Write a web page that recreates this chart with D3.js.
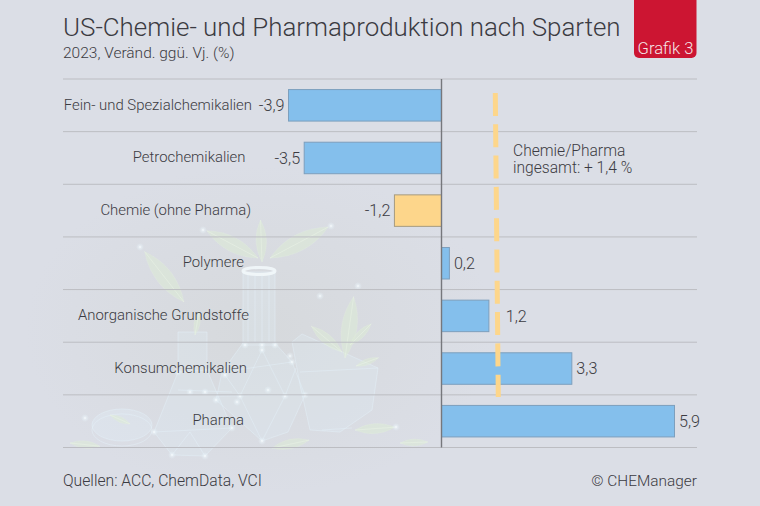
<!DOCTYPE html>
<html lang="de">
<head>
<meta charset="utf-8">
<title>US-Chemie- und Pharmaproduktion nach Sparten</title>
<script src="https://cdn.jsdelivr.net/npm/d3@7"></script>
<style>
  html, body { margin: 0; padding: 0; background: #dbdee6; }
  svg { display: block; }
  text { font-family: Roboto, "Liberation Sans", sans-serif; font-weight: 300; fill: #3b3b42; }
</style>
</head>
<body>
<div id="vis"></div>
<script>
// chart data
const categories = ["Fein- und Spezialchemikalien", "Petrochemikalien", "Chemie (ohne Pharma)", "Polymere", "Anorganische Grundstoffe", "Konsumchemikalien", "Pharma"];
const values = [-3.9, -3.5, -1.2, 0.2, 1.2, 3.3, 5.9];
const highlighted = ["Chemie (ohne Pharma)"];
const totalValue = 1.4;
const titleText = "US-Chemie- und Pharmaproduktion nach Sparten";
const subtitleText = "2023, Veränd. ggü. Vj. (%)";
const totalLabel = ["Chemie/Pharma", "ingesamt: + 1,4 %"];
const sourceText = "Quellen: ACC, ChemData, VCI";
const creditText = "© CHEManager";
const badgeText = "Grafik 3";

const width = 760, height = 506;

const svg = d3.select("#vis").append("svg")
  .attr("width", width)
  .attr("height", height);

const defs = svg.append("defs");
const glow = defs.append("radialGradient").attr("id", "bgGlow");
glow.append("stop").attr("offset", "0%").attr("stop-color", "#d6d9dc");
glow.append("stop").attr("offset", "100%").attr("stop-color", "#dbdee6");
const spark = defs.append("radialGradient").attr("id", "sparkGlow");
spark.append("stop").attr("offset", "0%").attr("stop-color", "#ffffff").attr("stop-opacity", 0.95);
spark.append("stop").attr("offset", "35%").attr("stop-color", "#eef8fd").attr("stop-opacity", 0.5);
spark.append("stop").attr("offset", "100%").attr("stop-color", "#e6f4fb").attr("stop-opacity", 0);

svg.append("rect").attr("width", width).attr("height", height).attr("fill", "#dbdee6");
svg.append("ellipse").attr("cx", 260).attr("cy", 330).attr("rx", 235).attr("ry", 165).attr("fill", "url(#bgGlow)");

// faint lab glassware behind the chart, decoration only
const art = svg.append("g").attr("fill", "none");
const glass = art.append("g").attr("stroke", "#e4f1f8").attr("stroke-width", 0.8).attr("stroke-opacity", 0.6);
const bodies = [
  "M243 272 L243 343 L222 372 L216 400 L262 441 L288 432 L305 395 L292 362 L275 343 L275 272 Z",
  "M178 332 L207 332 L207 370 L232 428 L205 456 L172 455 L154 432 L178 372 Z",
  "M292 342 L302 334 L378 368 L372 410 L340 432 L310 430 L300 385 Z"
];
glass.selectAll("path.body").data(bodies).join("path")
  .attr("class", "body")
  .attr("d", d => d)
  .attr("fill", "#dfeef6").attr("fill-opacity", 0.28);
const facets = [
  "M243 345 L275 345 M222 372 L292 362 M216 396 L305 395 M262 441 L240 396 L262 350 L285 396 Z M240 396 L225 375 M285 396 L296 368",
  "M154 432 L232 428 M178 372 L207 370 M172 455 L190 432 L205 456 M178 390 L232 392",
  "M300 372 L378 368 M322 430 L352 428"
];
glass.selectAll("path.facet").data(facets).join("path")
  .attr("class", "facet")
  .attr("d", d => d);
glass.append("ellipse").attr("cx", 122).attr("cy", 425).attr("rx", 30).attr("ry", 16).attr("fill", "#e2f0f7").attr("fill-opacity", 0.3);
glass.append("ellipse").attr("cx", 122).attr("cy", 430).attr("rx", 30).attr("ry", 16);
glass.append("ellipse").attr("cx", 259).attr("cy", 271).attr("rx", 16).attr("ry", 3.5).attr("stroke-width", 3).attr("stroke", "#f3f9fc").attr("stroke-opacity", 0.85);
for (let x = 248; x <= 270; x += 7) {
  glass.append("line").attr("x1", x).attr("x2", x).attr("y1", 275).attr("y2", 342);
}

// leaves: x, y, length, rotation
const leaves = [[262, 262, 42, -92], [270, 258, 66, -28], [258, 258, 58, -152], [184, 302, 64, -128], [345, 358, 62, -82], [342, 352, 40, -140], [350, 345, 30, -45], [356, 366, 24, -20], [355, 430, 40, -4], [70, 443, 30, 6], [272, 448, 38, -12], [110, 415, 22, 24], [400, 443, 28, -2], [195, 335, 24, -80]];
leaves.forEach(([x, y, l, r]) => {
  const leaf = art.append("g").attr("transform", `translate(${x},${y}) rotate(${r})`);
  leaf.append("path")
    .attr("d", `M0 0 Q${l / 2} ${-l / 4} ${l} 0 Q${l / 2} ${l / 4} 0 0 Z`)
    .attr("fill", "#dcebd6").attr("fill-opacity", 0.55)
    .attr("stroke", "#e5f0e2").attr("stroke-opacity", 0.45).attr("stroke-width", 0.5);
  leaf.append("line").attr("x2", l).attr("stroke", "#eaf4e6").attr("stroke-opacity", 0.8).attr("stroke-width", 0.6);
});

// light dots on the glass
const sparks = [[245, 345], [262, 345], [275, 345], [262, 350], [225, 375], [292, 362], [240, 396], [285, 396], [262, 441], [216, 400], [305, 395], [178, 372], [207, 370], [190, 392], [205, 392], [172, 455], [205, 456], [154, 432], [232, 428], [140, 247], [203, 230], [331, 226], [320, 296], [358, 286], [85, 418], [396, 427], [237, 402], [268, 390], [290, 356]];
art.selectAll("circle.spark").data(sparks).join("circle")
  .attr("class", "spark")
  .attr("cx", d => d[0]).attr("cy", d => d[1]).attr("r", 4)
  .attr("fill", "url(#sparkGlow)");

// scales
const x = d3.scaleLinear().domain([-3.9, 0, 5.9]).range([288.5, 441.5, 674.5]);
const row = d3.scaleBand().domain(categories).range([79, 447.5]);
const barHeight = 31.5;
const rowLines = [row.range()[0]].concat(categories.map(c => row(c) + row.bandwidth()));

const left = 63, right = 697;

svg.append("g").selectAll("line").data(rowLines).join("line")
  .attr("x1", left).attr("x2", right)
  .attr("y1", d => d).attr("y2", d => d)
  .attr("stroke", "#bcbdc2").attr("stroke-width", 1);

// bars
svg.append("g").selectAll("rect").data(categories).join("rect")
  .attr("x", (c, i) => Math.min(x(0), x(values[i])))
  .attr("y", c => row(c) + (row.bandwidth() - barHeight) / 2)
  .attr("width", (c, i) => Math.abs(x(values[i]) - x(0)))
  .attr("height", barHeight)
  .attr("fill", c => highlighted.includes(c) ? "#fdd68b" : "#84bfec")
  .attr("stroke", c => highlighted.includes(c) ? "#a69b80" : "#7d9fbd")
  .attr("stroke-width", 1);

// zero line
svg.append("line")
  .attr("x1", x(0)).attr("x2", x(0))
  .attr("y1", row.range()[0]).attr("y2", row.range()[1])
  .attr("stroke", "#76777c").attr("stroke-width", 1.4);

// total line, drawn slightly off vertical as in the original
svg.append("line")
  .attr("x1", x(totalValue) - 1.5).attr("x2", x(totalValue) + 1.5)
  .attr("y1", 93).attr("y2", 397)
  .attr("stroke", "#fdd68b").attr("stroke-width", 5)
  .attr("stroke-dasharray", "23 8.3");

// category labels, each line ends where the original one does
const labelEnd = [252, 245.5, 251, 244, 249, 247, 244];
svg.append("g").selectAll("text").data(categories).join("text")
  .attr("x", (c, i) => labelEnd[i])
  .attr("y", c => row(c) + row.bandwidth() / 2 - 1)
  .attr("dy", "0.35em")
  .attr("text-anchor", "end")
  .attr("font-size", 14.9)
  .text(c => c);

// value labels, the one that would hit the total line moves past it
const fmt = v => String(v).replace(".", ",");
const valueX = v => {
  if (v < 0) return x(v) - 4;
  const start = x(v) + 4.5;
  return start < x(totalValue) + 4 && start > x(totalValue) - 25 ? x(totalValue) + 9 : start;
};
svg.append("g").selectAll("text").data(categories).join("text")
  .attr("x", (c, i) => valueX(values[i]))
  .attr("y", c => row(c) + row.bandwidth() / 2)
  .attr("dy", "0.35em")
  .attr("text-anchor", (c, i) => values[i] < 0 ? "end" : "start")
  .attr("font-size", 16.2)
  .text((c, i) => fmt(values[i]));

// annotation for the total
svg.append("g").selectAll("text").data(totalLabel).join("text")
  .attr("x", 513)
  .attr("y", (d, i) => 156 + i * 17)
  .attr("font-size", 15.6)
  .text(d => d);

// title block
svg.append("text").attr("x", left).attr("y", 36).attr("font-size", 25.9).text(titleText);
svg.append("text").attr("x", left).attr("y", 58).attr("font-size", 15.5).text(subtitleText);

// badge
svg.append("path")
  .attr("d", "M634 0 H696.5 V53 a5 5 0 0 1 -5 5 H639 a5 5 0 0 1 -5 -5 Z")
  .attr("fill", "#cc1532");
svg.append("text")
  .attr("x", 665.5).attr("y", 54)
  .attr("text-anchor", "middle")
  .attr("font-size", 16.6)
  .style("fill", "#f5e6e8")
  .text(badgeText);

// footer
svg.append("text").attr("x", left).attr("y", 486).attr("font-size", 15.7).text(sourceText);
svg.append("text").attr("x", right).attr("y", 486).attr("text-anchor", "end").attr("font-size", 15.4).text(creditText);
</script>
</body>
</html>
